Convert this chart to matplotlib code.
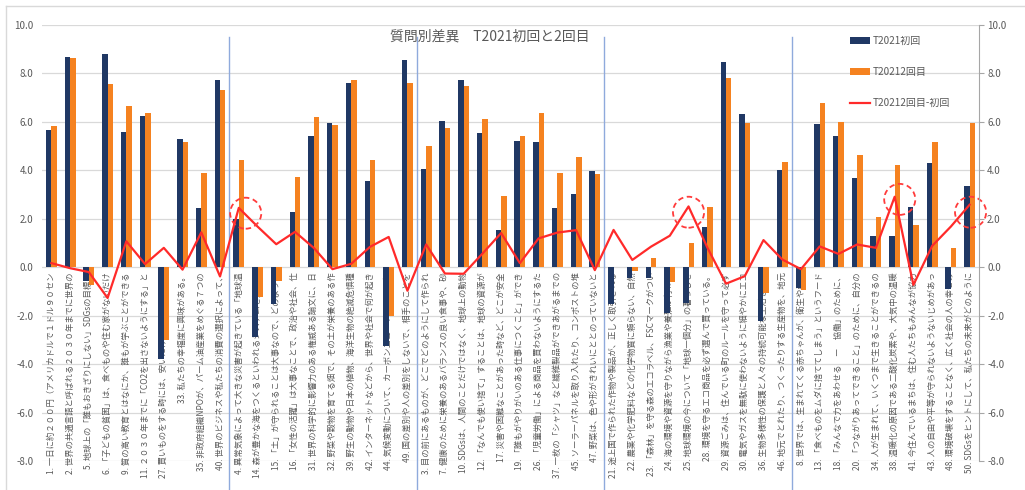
import matplotlib
matplotlib.use("Agg")
import matplotlib.pyplot as plt
from matplotlib.patches import Ellipse
from matplotlib.lines import Line2D
from matplotlib.ticker import FormatStrFormatter
import numpy as np

plt.rcParams['font.family'] = ['Noto Sans CJK JP', 'DejaVu Sans']
plt.rcParams['axes.unicode_minus'] = False

# question numbers, in the order they are drawn (5 groups of 10)
q_no = [1, 2, 5, 6, 9, 11, 27, 33, 35, 40,
        4, 14, 15, 16, 31, 32, 39, 42, 44, 49,
        3, 7, 10, 12, 17, 19, 26, 37, 45, 47,
        21, 22, 23, 24, 25, 28, 29, 30, 36, 46,
        8, 13, 18, 20, 34, 38, 41, 43, 48, 50]

q_text = [
    '一日に約２００円（アメリカドルで１ドル９０セン',
    '世界の共通言語と呼ばれる２０３０年までに世界の',
    '地球上の「誰もおきざりにしない」SDGsの目標を',
    '「子どもの貧困」は、食べものや住む家がないだけ',
    '質の高い教育とはなにか、誰もが学ぶことができる',
    '２０３０年までに「CO2を出さないようにする」と',
    '買いものをする時には、安いだけでなく環境や人に',
    '私たちの幸福度に興味がある。',
    '非政府組織NPOが、パーム油産業をめぐる７つの',
    '世界のビジネスや私たちの消費の選択によって、',
    '異常気象によって大きな災害が起きている「地球温',
    '森が豊かな海をつくるといわれるシステムを知って',
    '「土」が守られることは大事なので、どのように',
    '「女性の活躍」は大事なことで、政治や社会、仕',
    '世界の科学的に影響力のある権威ある論文に、日',
    '野菜や穀物を育てる畑で、その土が栄養のある作',
    '野生の動物や日本の植物、海洋生物の絶滅危惧種',
    'インターネットなどから、世界や社会で何が起き',
    '気候変動について、カーボンニュートラルとは何',
    '国の差別や人の差別をしないで、相手のことを',
    '目の前にあるものが、どこでどのようにして作られ',
    '健康のために栄養のあるバランスの良い食事や、砂',
    'SDGsは、人間のことだけではなく、地球上の動物',
    '「なんでも使い捨て」することは、地球の資源が',
    '災害や困難なことがあった時など、どこが安全',
    '「誰もがやりがいのある仕事につくこと」ができ',
    '「児童労働」による商品を買わないようにするた',
    '一枚の「シャツ」など繊維製品ができあがるまでの',
    'ソーラーパネルを取り入れたり、コンポストの堆',
    '野菜は、色や形がきれいにととのっていないと',
    '途上国で作られた作物や製品が、正しく取引される',
    '農薬や化学肥料などの化学物質に頼らない、自然',
    '「森林」を守る森のエコラベル、FSCマークがつい',
    '海の環境や資源を守りながら漁業や養殖が行われ',
    '地球環境の今について「地球一個分」の暮らしを',
    '環境を守るエコ商品を必ず選んで買っている。',
    '資源ごみは、住んでいる町のルールを守って必ず',
    '電気やガスを無駄に使わないように細やかにエコ',
    '生物多様性の保護と人々の持続可能な生活を守る',
    '地元でとれたり、つくったりする生産物を、地元',
    '世界では、生まれてくる赤ちゃんが、衛生や栄養',
    '「食べものをムダに捨ててしまう」というフード',
    '「みんなで力をあわせる　ー　協働」のために、',
    '「つながりあってできること」のために、自分の',
    '人が生まれて、いくつまで生きることができるの',
    '温暖化の原因である二酸化炭素や、大気中の温暖',
    '今住んでいるまちは、住む人たちもみんなが協力',
    '人の自由や平等が守られないようないじめがあっ',
    '環境破壊をすることなく、広く社会の人の幸せの',
    'SDGsをヒントにして、私たちの未来がどのように',
]

first = [5.67, 8.68, -0.55, 8.82, 5.60, 6.23, -3.80, 5.29, 2.44, 7.71,
         1.98, -2.90, -1.50, 2.26, 5.40, 5.95, 7.60, 3.57, -3.25, 8.57,
         4.05, 6.02, 7.74, 5.56, 1.54, 5.23, 5.17, 2.45, 3.02, 3.98,
         -1.52, -0.45, -0.45, -1.90, -1.49, 1.68, 8.48, 6.32, -2.20, 4.02,
         -0.85, 5.92, 5.43, 3.70, 1.29, 1.29, 2.48, 4.30, -0.89, 3.37]

second = [5.84, 8.64, -0.75, 7.55, 6.67, 6.36, -3.00, 5.19, 3.88, 7.33,
          4.43, -1.22, -0.55, 3.72, 6.20, 5.87, 7.74, 4.41, -2.00, 7.60,
          4.99, 5.76, 7.47, 6.12, 2.95, 5.40, 6.36, 3.88, 4.55, 3.86,
          0.02, -0.15, 0.40, -0.60, 1.02, 2.50, 7.80, 5.95, -1.08, 4.34,
          -0.93, 6.78, 5.98, 4.64, 2.09, 4.20, 1.75, 5.18, 0.79, 5.95]

diff = [0.17, -0.04, -0.20, -1.27, 1.07, 0.13, 0.80, -0.10, 1.44, -0.38,
        2.45, 1.68, 0.95, 1.46, 0.80, -0.08, 0.14, 0.84, 1.25, -0.97,
        0.94, -0.26, -0.27, 0.56, 1.41, 0.17, 1.19, 1.43, 1.53, -0.12,
        1.54, 0.30, 0.85, 1.30, 2.51, 0.82, -0.68, -0.37, 1.12, 0.32,
        -0.08, 0.86, 0.55, 0.94, 0.80, 2.91, -0.73, 0.88, 1.68, 2.58]

# dashed circles that mark the big jumps
circle_x = [10.37, 34.0, 45.27, 49.05]
circle_y = [2.23, 2.27, 2.80, 2.27]

navy = '#203864'
orange = '#F58220'
red = '#FF2A2A'
gray = '#595959'

fig = plt.figure(figsize=(10.25, 4.9), dpi=100)
ax = fig.add_axes([42/1025, 29/490, 937/1025, 436/490])

x = np.arange(len(q_no))
w = 0.29
b1 = ax.bar(x - w/2, first, w, color=navy, label='T2021初回', zorder=2)
b2 = ax.bar(x + w/2, second, w, color=orange, label='T20212回目', zorder=2)
l1, = ax.plot(x, diff, color=red, lw=1.6, label='T20212回目-初回', zorder=4)

ax.set_xlim(-0.5, 49.5)
ax.set_ylim(-8, 10)
ax.set_yticks(np.arange(-8, 10.1, 2))
ax.yaxis.set_major_formatter(FormatStrFormatter('%.1f'))
ax.tick_params(axis='y', length=0, pad=6, labelsize=7, labelcolor=gray)
ax.set_xticks([])
for s in ax.spines.values():
    s.set_visible(False)
ax.set_axisbelow(True)
ax.grid(axis='y', color='#D9D9D9', lw=0.9)

# category labels hang down from the zero line
for i, (n, t) in enumerate(zip(q_no, q_text)):
    ax.annotate(f'{n}. {t}', xy=(i, 0), xytext=(0, -3.5), textcoords='offset points',
                rotation=90, ha='center', va='top', fontsize=6, color=gray,
                zorder=1, annotation_clip=False)

# group separators
for xs in [9.5, 19.5, 29.5, 39.5]:
    ax.plot([xs, xs], [9.5, -9.6], color='#8FAADC', lw=1, clip_on=False, zorder=1)

for cx, cy in zip(circle_x, circle_y):
    ax.add_patch(Ellipse((cx, cy), 1.66, 1.28, fill=False, ec='#FF3B3B',
                         ls=(0, (3, 2)), lw=1.3, zorder=5, clip_on=False))

ax2 = ax.twinx()
ax2.set_ylim(-8, 10)
ax2.set_yticks(np.arange(-8, 10.1, 2))
ax2.yaxis.set_major_formatter(FormatStrFormatter('%.1f'))
ax2.tick_params(axis='y', length=3.6, width=0.8, color='#A6A6A6', pad=2.2,
                labelsize=7, labelcolor=gray, direction='out')
for k, s in ax2.spines.items():
    s.set_visible(k == 'right')
ax2.spines['right'].set_color('#A6A6A6')

fig.text(490/1025, 1 - 37/490, '質問別差異　T2021初回と2回目', ha='center', va='center',
         fontsize=10, color=gray)

ax.legend([b1, b2, l1], ['T2021初回', 'T20212回目', 'T20212回目-初回'],
          loc='upper left', bbox_to_anchor=(850/1025, 1 - 36/490), bbox_transform=fig.transFigure,
          frameon=False, fontsize=7.2, handlelength=2.0, handleheight=0.6, handletextpad=0.25,
          labelspacing=2.1, borderpad=0, borderaxespad=0, labelcolor=gray)

# light chart frame
fig.add_artist(Line2D([6/1025, 1], [1 - 6/490, 1 - 6/490], color='#D9D9D9', lw=1))
fig.add_artist(Line2D([6/1025, 6/1025], [0, 1 - 6/490], color='#D9D9D9', lw=1))

fig.savefig('out.png', dpi=100)
